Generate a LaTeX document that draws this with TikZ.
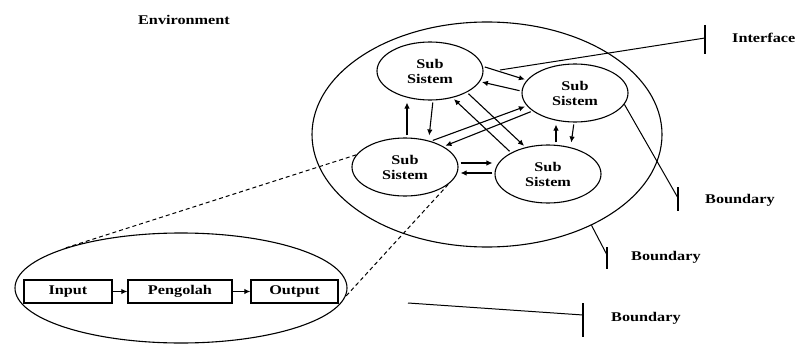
\documentclass[tikz,border=0pt]{standalone}
\usepackage{fontspec}
\setmainfont{Liberation Serif}[FakeStretch=1.22]
\usetikzlibrary{shapes.geometric,arrows.meta,calc}
\begin{document}
\begin{tikzpicture}[x=1pt,y=-1pt,
  txt/.style={font=\fontsize{13.3}{15}\selectfont\bfseries},
  lbl/.style={txt, inner sep=0, anchor=west},
  oval/.style={ellipse, draw, line width=1.1pt, inner sep=0},
  sub/.style={oval, minimum width=106, minimum height=58, align=center, txt},
  arr/.style={-{Latex[length=6pt,width=5.5pt]}, line width=1.1pt, shorten <=2pt, shorten >=2pt},
  box/.style={draw, line width=1.3pt, minimum height=23, inner sep=0, txt},
  dsh/.style={dash pattern=on 4pt off 3pt, line width=1pt},
  ln/.style={line width=1pt}]
\useasboundingbox (0,0) rectangle (800,345);

\node[txt, inner sep=0] (env) at (184,20) {Environment};

% system
\node[oval, minimum width=350, minimum height=225] (sys) at (487,134.5) {};
\node[sub] (tl) at (430,71) {Sub\\Sistem};
\node[sub] (tr) at (575,93) {Sub\\Sistem};
\node[sub] (bl) at (405,167) {Sub\\Sistem};
\node[sub] (br) at (548,174) {Sub\\Sistem};

% arrows between sub systems
\draw[arr] (tl.5) -- (tr.165);
\draw[arr] (tr.178) -- (tl.-12);
\draw[arr] ([xshift=2pt]bl.north) -- ([xshift=-23pt]tl.south);
\draw[arr] ([xshift=3pt]tl.south) -- ([xshift=24pt]bl.north);
\draw[arr] (bl.45) -- (tr.195);
\draw[arr] (tr.203) -- (bl.28);
\draw[arr] (br.150) -- (tl.-50);
\draw[arr] (tl.-30) -- (br.130);
\draw[arr] ([xshift=8pt]br.north) -- ([xshift=-19pt]tr.south);
\draw[arr] ([xshift=-1pt]tr.south) -- ([xshift=23pt]br.north);
\draw[arr] ([yshift=4pt]bl.east) -- ([yshift=11pt]br.west);
\draw[arr] ([yshift=1pt]br.west) -- ([yshift=-6pt]bl.east);

% interface
\coordinate (ifs) at (500,70);
\coordinate (ift) at (705,38);
\node[lbl] (iflab) at (732,38) {Interface};
\draw[ln] (ifs) -- (ift);
\draw[line width=1.3pt] ([yshift=13pt]ift) -- ([yshift=-16pt]ift);

% boundary 1
\coordinate (b1t) at (678,198);
\node[lbl] (b1lab) at (705,200) {Boundary};
\draw[ln] (tr.-13) -- (b1t);
\draw[line width=1.3pt] ([yshift=11pt]b1t) -- ([yshift=-13pt]b1t);

% boundary 2
\coordinate (b2t) at (607,255);
\node[lbl] (b2lab) at (631,257) {Boundary};
\draw[ln] (sys.-41) -- (b2t);
\draw[line width=1.3pt] ([yshift=8pt]b2t) -- ([yshift=-14pt]b2t);

% boundary 3
\coordinate (b3s) at (408,303);
\coordinate (b3t) at (583,315);
\node[lbl] (b3lab) at (611,318) {Boundary};
\draw[ln] (b3s) -- (b3t);
\draw[line width=1.3pt] ([yshift=12pt]b3t) -- ([yshift=-22pt]b3t);

% lower detail
\node[oval, minimum width=332, minimum height=110] (low) at (181,288) {};
\node[box, minimum width=88] (in) at (68,291.5) {Input};
\node[box, minimum width=104] (pr) at (180,291.5) {Pengolah};
\node[box, minimum width=87] (out) at (294.5,291.5) {Output};
\draw[arr, shorten <=0pt, shorten >=0pt] (in) -- (pr);
\draw[arr, shorten <=0pt, shorten >=0pt] (pr) -- (out);

% dashed zoom lines
\draw[dsh] (bl.166) -- (low.161);
\draw[dsh] (bl.-22) -- (low.-3);
\end{tikzpicture}
\end{document}
